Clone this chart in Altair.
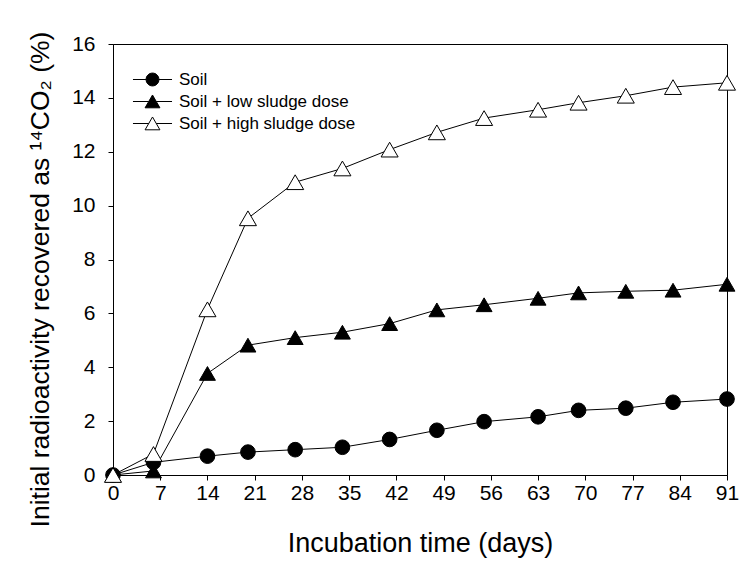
import altair as alt
import pandas as pd

days = [0, 6, 14, 20, 27, 34, 41, 48, 55, 63, 69, 76, 83, 91]
series_names = ["Soil", "Soil + low sludge dose", "Soil + high sludge dose"]
soil = [0, 0.47, 0.70, 0.85, 0.94, 1.03, 1.32, 1.66, 1.98, 2.16, 2.40, 2.48, 2.70, 2.82]
low_dose = [0, 0.15, 3.77, 4.82, 5.10, 5.30, 5.62, 6.13, 6.32, 6.56, 6.76, 6.82, 6.86, 7.08]
high_dose = [0, 0.78, 6.15, 9.53, 10.87, 11.38, 12.08, 12.72, 13.25, 13.56, 13.82, 14.08, 14.40, 14.56]
x_ticks = list(range(0, 92, 7))
y_ticks = list(range(0, 17, 2))

rows = []
for name, vals in zip(series_names, [soil, low_dose, high_dose]):
    for d, v in zip(days, vals):
        rows.append({"day": d, "value": v, "series": name})
df = pd.DataFrame(rows)

FONT = "Liberation Sans"

x_enc = alt.X(
    "day:Q",
    scale=alt.Scale(domain=[0, 91], nice=False, zero=False),
    axis=alt.Axis(values=x_ticks, title="Incubation time (days)", labelFlush=False,
                  labelPadding=2, titlePadding=27, labelOverlap=False, titleFontSize=27),
)
y_enc = alt.Y(
    "value:Q",
    scale=alt.Scale(domain=[0, 16], nice=False),
    axis=alt.Axis(values=y_ticks, title="Initial radioactivity recovered as ¹⁴CO₂ (%)",
                  labelPadding=13, titlePadding=17, labelOverlap=False,
                  titleFontSize=26.5, titleY=235),
)

lines = alt.Chart(df).mark_line(color="black", strokeWidth=1).encode(
    x=x_enc, y=y_enc, detail="series:N"
)

points = alt.Chart(df).mark_point(filled=True, stroke="black", strokeWidth=1, opacity=1).encode(
    x=x_enc,
    y=y_enc,
    shape=alt.Shape("series:N", scale=alt.Scale(domain=series_names,
                    range=["circle", "triangle-up", "triangle-up"]), legend=None),
    fill=alt.Fill("series:N", scale=alt.Scale(domain=series_names,
                  range=["black", "black", "white"]), legend=None),
    size=alt.Size("series:N", scale=alt.Scale(domain=series_names, range=[215, 290, 290]), legend=None),
)

# legend glyphs: short line with the marker in the middle (unit = 7 px, symbolSize 196)
circle_path = "M-2.79,0H-0.92M0.92,0H2.79M-0.92,0A0.92,0.92,0,1,1,0.92,0A0.92,0.92,0,1,1,-0.92,0Z"
tri_path = "M-2.79,0H-0.53M0.53,0H2.79M0,-0.93L1.06,0.9L-1.06,0.9Z"

legend_props = dict(orient="none", legendX=31, legendY=27, title=None,
                    labelFont=FONT, labelFontSize=17, labelColor="black", labelLimit=0,
                    symbolSize=196, symbolStrokeColor="black",
                    symbolStrokeWidth=1, symbolOpacity=1, labelOffset=18,
                    rowPadding=4, padding=0)

legend_layer = alt.Chart(df).mark_point(filled=True, strokeWidth=1, opacity=0).encode(
    x=x_enc,
    y=y_enc,
    shape=alt.Shape("series:N", scale=alt.Scale(domain=series_names,
                    range=[circle_path, tri_path, tri_path]),
                    legend=alt.Legend(**legend_props)),
    fill=alt.Fill("series:N", scale=alt.Scale(domain=series_names,
                  range=["black", "black", "white"]),
                  legend=alt.Legend(**legend_props)),
    stroke=alt.Stroke("series:N", scale=alt.Scale(domain=series_names,
                      range=["black", "black", "black"]),
                      legend=alt.Legend(**legend_props)),
)

chart = (
    alt.layer(lines, points, legend_layer)
    .resolve_scale(shape="independent", fill="independent", stroke="independent")
    .properties(width=614, height=431, autosize=alt.AutoSizeParams(type="none"),
                padding={"left": 113, "top": 44, "right": 12, "bottom": 89}, background="white")
    .configure_view(stroke="black", strokeWidth=1)
    .configure_axis(grid=False, domainColor="black", tickColor="black", tickSize=5,
                    labelFont=FONT, labelFontSize=21, labelColor="black",
                    titleFont=FONT, titleFontWeight="normal", titleColor="black")
)

chart.save("out.html", embed_options={"renderer": "svg", "actions": False})
